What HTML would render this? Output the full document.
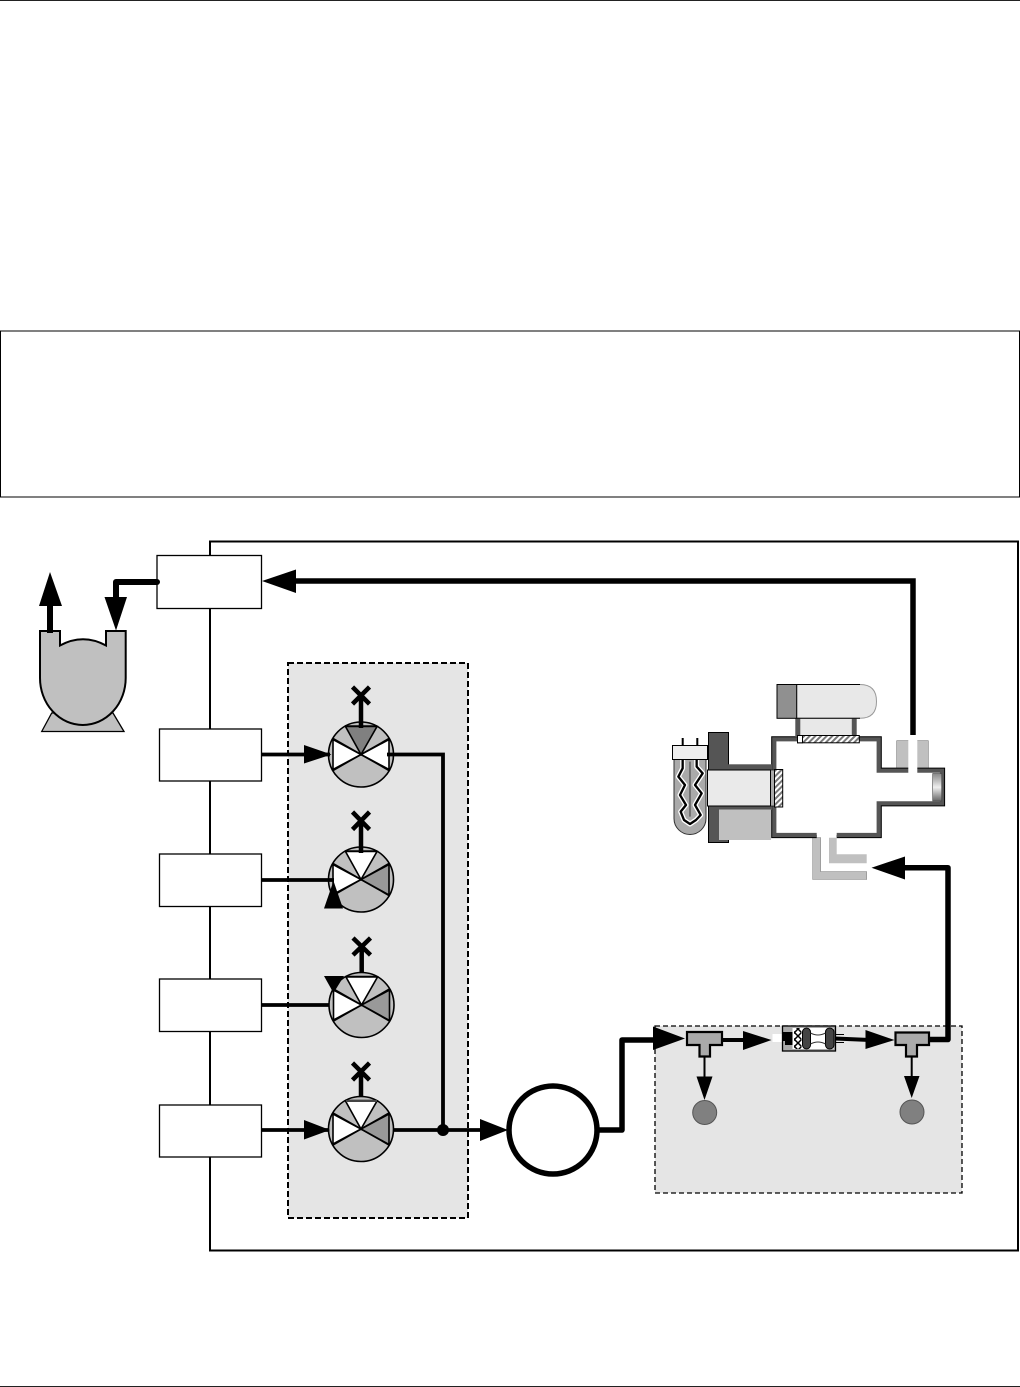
<!DOCTYPE html>
<html>
<head>
<meta charset="utf-8">
<style>
html,body{margin:0;padding:0;background:#fff;}
svg{display:block;}
</style>
</head>
<body>
<svg width="1020" height="1387" viewBox="0 0 1020 1387" xmlns="http://www.w3.org/2000/svg">
<defs>
<pattern id="h" width="4" height="4" patternUnits="userSpaceOnUse" patternTransform="rotate(45)">
<rect width="4" height="4" fill="#fff"/><rect width="2" height="4" fill="#777"/>
</pattern>
<pattern id="c" width="7" height="7" patternUnits="userSpaceOnUse">
<rect width="7" height="7" fill="#fff"/><path d="M0,0L7,7M7,0L0,7" stroke="#000" stroke-width="1.500"/>
</pattern>
<linearGradient id="g" x1="0" y1="0" x2="0" y2="1">
<stop offset="0" stop-color="#888"/><stop offset=".5" stop-color="#eee"/><stop offset="1" stop-color="#666"/>
</linearGradient>
<g id="v">
<circle r="32.5" fill="#c0c0c0" stroke="#000" stroke-width="1.600"/>
<path d="M-16,-28.5L16,-28.5M0,0L28,-16M0,0L28,16M0,0L-28,-16M0,0L-28,16" stroke="#000" fill="none" stroke-width="1.600"/>
<path d="M0,0L-28,-15V15Z" fill="#fff" stroke="#000" stroke-width="1.600"/>
</g>
</defs>

<!-- page rules -->
<rect x="0" y="0" width="1020" height="1" fill="#222"/>
<rect x="0" y="1386" width="1020" height="1" fill="#222"/>
<rect x="0.5" y="331" width="1019" height="166" fill="#fff" stroke="#000" stroke-width="1"/>

<!-- main enclosure -->
<rect x="210" y="541.5" width="808" height="709" fill="#fff" stroke="#000" stroke-width="2"/>

<!-- dashed panels -->
<rect x="288" y="663" width="180" height="555" fill="#e5e5e5" stroke="#000" stroke-width="2" stroke-dasharray="6 3"/>
<rect x="655" y="1026" width="307" height="167" fill="#e5e5e5" stroke="#000" stroke-width="1.300" stroke-dasharray="5 3"/>

<!-- boxes -->
<g fill="#fff" stroke="#000" stroke-width="1.300">
<rect x="157" y="555.5" width="104.5" height="53"/>
<rect x="159.5" y="729" width="102" height="52"/>
<rect x="159.5" y="854" width="102" height="52.500"/>
<rect x="159.5" y="979" width="102" height="52.500"/>
<rect x="159.5" y="1105" width="102" height="52"/>
</g>

<!-- pump -->
<path d="M41.700,731.500L51.700,713H113L124,731.500Z" fill="#c0c0c0" stroke="#000" stroke-width="1.300"/>
<path d="M40,631H60V645.500Q83,633 106,645.500V631H125.700V678A42.850,47 0 0 1 40,678Z" fill="#c0c0c0" stroke="#000" stroke-width="2"/>
<path d="M50,633V600" stroke="#000" stroke-width="6" fill="none"/>
<path d="M50,572L39,606H62Z" fill="#000"/>
<path d="M157,582H116V600" stroke="#000" stroke-width="6" fill="none" stroke-linejoin="round" stroke-linecap="round"/>
<path d="M116,630.500L104.500,597H127Z" fill="#000"/>

<!-- top return arrow -->
<path d="M913,735V581H290" stroke="#000" stroke-width="5.500" fill="none"/>
<path d="M262,581L296,569.500V593Z" fill="#000"/>

<!-- valves -->
<use href="#v" x="361" y="754.500"/>
<use href="#v" x="361" y="879.500"/>
<use href="#v" x="361.500" y="1005"/>
<use href="#v" x="361" y="1129"/>
<!-- valve 1 wedges -->
<path d="M361,754.500L345.500,726.500H377Z" fill="#808080" stroke="#000" stroke-width="1.600"/>
<path d="M361,754.500L389,739.500V769.500Z" fill="#fff" stroke="#000" stroke-width="1.600"/>
<!-- valve 2 -->
<path d="M361,879.500L345.500,851.500H377Z" fill="#fff" stroke="#000" stroke-width="1.600"/>
<path d="M361,879.500L389,864.500V895Z" fill="#999" stroke="#000" stroke-width="1.600"/>
<!-- valve 3 -->
<path d="M361.500,1005L346,977H377.500Z" fill="#fff" stroke="#000" stroke-width="1.600"/>
<path d="M361.500,1005L389.500,990V1020.500Z" fill="#999" stroke="#000" stroke-width="1.600"/>
<!-- valve 4 -->
<path d="M361,1129L345.500,1101H377Z" fill="#fff" stroke="#000" stroke-width="1.600"/>
<path d="M361,1129L389,1114V1144.500Z" fill="#999" stroke="#000" stroke-width="1.600"/>
<rect x="346" y="1100" width="31" height="2" fill="#444"/>

<!-- X vents -->
<g stroke="#000" stroke-width="4.500" fill="none">
<path d="M361,728V696M352.500,687L369.500,704M369.500,687L352.500,704"/>
<path d="M361,853V821M352.500,812L369.500,829.500M369.500,812L352.500,829.500"/>
<path d="M361.700,973V947M353,938L370.500,955M370.500,938L353,955"/>
<path d="M361,1097V1071M352.500,1063L369.500,1080M369.500,1063L352.500,1080"/>
</g>

<!-- valve inlets -->
<g stroke="#000" stroke-width="3.800" fill="none">
<path d="M261,754.500H330"/>
<path d="M261,880H334"/>
<path d="M261,1005H329"/>
<path d="M261,1130H329"/>
</g>
<path d="M331.500,754.500L304,745V763.500Z" fill="#000"/>
<path d="M333.500,881L324,908.500H343Z" fill="#000"/>
<path d="M333.500,993L324,976H344Z" fill="#000"/>
<path d="M330,1130L304,1120V1139.500Z" fill="#000"/>

<!-- manifold -->
<path d="M387,754.500H443V1130" stroke="#000" stroke-width="3.800" fill="none"/>
<path d="M394,1130H485" stroke="#000" stroke-width="3.800" fill="none"/>
<circle cx="443" cy="1130" r="6" fill="#000"/>
<path d="M508,1130L480,1119V1141Z" fill="#000"/>

<!-- big circle -->
<circle cx="553" cy="1130" r="44" fill="#fff" stroke="#000" stroke-width="5.500"/>

<!-- line to flow module -->
<path d="M597,1130H622V1040H660" stroke="#000" stroke-width="5.500" fill="none" stroke-linejoin="round"/>
<path d="M685,1038.500L653,1026.500V1050Z" fill="#000"/>

<!-- T 1 -->
<path d="M687,1032H722V1045H710V1056.500H699.500V1045H687Z" fill="#aaa" stroke="#000" stroke-width="2.200"/>
<path d="M722,1040H745" stroke="#000" stroke-width="4"/>
<path d="M771.500,1040L743,1031V1050Z" fill="#000"/>
<path d="M704.500,1056V1080" stroke="#000" stroke-width="2"/>
<path d="M704.500,1100L696.500,1076.500H712.500Z" fill="#000"/>
<circle cx="704.700" cy="1112.500" r="12" fill="#808080" stroke="#555" stroke-width="1"/>

<!-- filter -->
<rect x="772.500" y="1034" width="11" height="8" fill="#fff"/>
<rect x="782.500" y="1026" width="53" height="25" fill="#aaa" stroke="#000" stroke-width="1.300"/>
<rect x="792.500" y="1028" width="41" height="21" fill="#fff"/>
<path d="M783,1032H792.500V1045H785V1041H783Z" fill="#000"/>
<rect x="794" y="1028" width="7.500" height="21" fill="url(#c)"/>
<rect x="802.500" y="1028" width="8" height="21" rx="4" fill="#444" stroke="#000" stroke-width="1"/>
<rect x="825.500" y="1028" width="8.500" height="21" rx="4" fill="#444" stroke="#000" stroke-width="1"/>
<path d="M810.500,1033Q818,1037 825.500,1033M810.500,1044Q818,1040 825.500,1044" fill="none" stroke="#333" stroke-width="1"/>
<path d="M835,1034.500H844M835,1042.500H844" stroke="#000" stroke-width="1"/>
<path d="M835,1038.500L870,1040" stroke="#000" stroke-width="4"/>
<path d="M894.500,1040L865.500,1030V1049Z" fill="#000"/>

<!-- T 2 -->
<path d="M895.500,1032.500H929V1045H917V1056.500H906V1045H895.500Z" fill="#aaa" stroke="#000" stroke-width="2.200"/>
<path d="M911.700,1056V1080" stroke="#000" stroke-width="2"/>
<path d="M911.700,1098L904,1076H919.500Z" fill="#000"/>
<circle cx="912" cy="1112" r="12" fill="#808080" stroke="#555" stroke-width="1"/>

<!-- outlet to sensor -->
<path d="M928,1039.500H948V867.700H900" stroke="#000" stroke-width="5.500" fill="none" stroke-linejoin="round"/>
<path d="M871.500,867.700L905,856.500V879.500Z" fill="#000"/>

<!-- sensor: tubes -->
<path d="M812.700,837.700H820.700V871.700H866.700V879.500H812.700Z" fill="#c0c0c0" stroke="#888" stroke-width=".6"/>
<path d="M829,837.700H836.700V854.300H866.700V863.300H829Z" fill="#c0c0c0"/>

<!-- grey side block -->
<rect x="896.700" y="740.700" width="31.600" height="28" fill="#c0c0c0" stroke="#777" stroke-width=".6"/>

<!-- chamber -->
<path d="M816.700,835H774.300V739.300H878.700V770.700H942V803.300H878.700V835H836.700" fill="#fff" stroke="#000" stroke-width="6.200"/>
<path d="M816.700,835H774.300V739.300H878.700V770.700H942V803.300H878.700V835H836.700" fill="#fff" stroke="#555" stroke-width="4.200"/>
<rect x="932.700" y="773.500" width="9" height="27.500" fill="url(#g)" stroke="#444" stroke-width=".6"/>
<rect x="908.300" y="735" width="9" height="40" fill="#fff"/>

<!-- UV lamp top -->
<rect x="795.300" y="718" width="61.400" height="19" fill="#555"/>
<rect x="800.300" y="718" width="51.500" height="19" fill="#e8e8e8"/>
<path d="M796.700,684.500H860Q876.500,684.500 876.500,701.500Q876.500,718.300 860,718.300H796.700Z" fill="#e8e8e8" stroke="#999" stroke-width="1"/>
<path d="M796.700,684.500H860M796.700,718.300H860" stroke="#000" stroke-width="1"/>
<rect x="777" y="684.500" width="19.700" height="33.800" fill="#909090" stroke="#000" stroke-width="1"/>
<rect x="797.500" y="735.500" width="61.800" height="7.300" fill="url(#h)" stroke="#000" stroke-width="1"/>
<rect x="797.500" y="735.500" width="5" height="7.300" fill="#fff" stroke="#000" stroke-width="1"/>

<!-- left assembly -->
<rect x="708.500" y="732.500" width="20" height="110" fill="#555" stroke="#000" stroke-width="1"/>
<rect x="728" y="764.300" width="44" height="6" fill="#555"/>
<rect x="728" y="806" width="44" height="4" fill="#555"/>
<rect x="719" y="809.500" width="52" height="30.500" fill="#c0c0c0"/>
<rect x="707.500" y="770" width="63" height="36" fill="#eaeaea" stroke="#000" stroke-width="1"/>
<rect x="770.700" y="770" width="4" height="36" fill="#aaa" stroke="#000" stroke-width=".6"/>
<rect x="774.500" y="769.500" width="8.200" height="37.500" fill="url(#h)" stroke="#000" stroke-width="1"/>

<!-- source lamp -->
<path d="M674,759V818.500A16,16 0 0 0 706,818.500V759Z" fill="#aaa" stroke="#333" stroke-width="1"/>
<path d="M682.700,738V746M697.300,738V746" stroke="#000" stroke-width="2"/>
<g transform="translate(660 670) scale(.3333)" fill="none" stroke-linejoin="round">
<path d="M68,268V295L55,320L75,345L60,375L78,405L62,425L72,450L90,462L108,450L122,435L105,405L125,370L105,345L128,310L110,290V268" stroke="#fff" stroke-width="15"/>
<path d="M68,268V295L55,320L75,345L60,375L78,405L62,425L72,450L90,462L108,450L122,435L105,405L125,370L105,345L128,310L110,290V268" stroke="#000" stroke-width="7"/>
<path d="M90,275V440" stroke="#222" stroke-width="2.500"/>
</g>
<rect x="672.500" y="745.500" width="35" height="14" fill="#eee" stroke="#000" stroke-width="1"/>
</svg>
</body>
</html>
